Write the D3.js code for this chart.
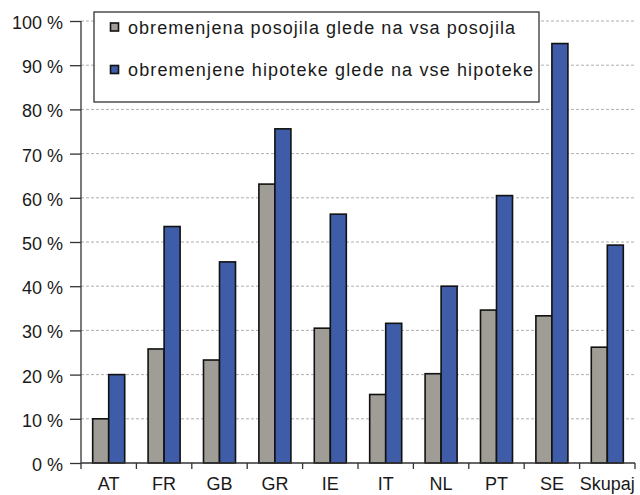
<!DOCTYPE html>
<html>
<head>
<meta charset="utf-8">
<script src="https://cdn.jsdelivr.net/npm/d3@7"></script>
<style>
  body { margin: 0; background: #fff; }
</style>
</head>
<body>
<div id="chart"></div>
<script>
const categories = ["AT", "FR", "GB", "GR", "IE", "IT", "NL", "PT", "SE", "Skupaj"];
const loans = [10, 25.8, 23.3, 63.1, 30.5, 15.5, 20.2, 34.6, 33.3, 26.2];
const mortgages = [20, 53.5, 45.5, 75.6, 56.3, 31.6, 40, 60.5, 94.9, 49.3];
const seriesNames = [
  "obremenjena posojila glede na vsa posojila",
  "obremenjene hipoteke glede na vse hipoteke"
];
const seriesColors = ["#a09c96", "#3e5ca8"];
const yTicks = [0, 10, 20, 30, 40, 50, 60, 70, 80, 90, 100];

const FONT = "'Liberation Sans', Arial, Helvetica, sans-serif";
const width = 640, height = 495;
const margin = { top: 21, right: 5, bottom: 32, left: 81 };
const innerW = 635 - margin.left;
const innerH = 463 - margin.top;

const svg = d3.select("#chart").append("svg")
  .attr("width", width).attr("height", height);
const g = svg.append("g").attr("transform", `translate(${margin.left},${margin.top})`);

const x = d3.scaleBand().domain(categories).range([0, innerW]).paddingInner(0).paddingOuter(0);
const x1 = d3.scaleBand().domain([0, 1]).range([0, x.bandwidth()]).paddingOuter(0.73).paddingInner(0);
const y = d3.scaleLinear().domain([0, 100]).range([innerH, 0]);

// gridlines
g.selectAll("line.grid").data(yTicks.filter(d => d > 0)).enter().append("line")
  .attr("x1", 0).attr("x2", innerW)
  .attr("y1", d => y(d)).attr("y2", d => y(d))
  .attr("stroke", "#9a9a9a").attr("stroke-width", 0.8)
  .attr("stroke-dasharray", "3,2");

// bars
const data = categories.map((c, i) => ({ c, vals: [loans[i], mortgages[i]] }));
const groups = g.selectAll("g.grp").data(data).enter().append("g")
  .attr("transform", d => `translate(${x(d.c)},0)`);
groups.selectAll("rect").data(d => d.vals.map((v, k) => ({ v, k }))).enter().append("rect")
  .attr("x", d => x1(d.k))
  .attr("width", x1.bandwidth())
  .attr("y", d => y(d.v))
  .attr("height", d => innerH - y(d.v))
  .attr("fill", d => seriesColors[d.k])
  .attr("stroke", "#111").attr("stroke-width", 1.6);

// y axis
const yAxis = g.append("g").call(d3.axisLeft(y).tickValues(yTicks).tickSize(11).tickFormat(d => d + " %"));
yAxis.select(".domain").attr("stroke", "#333").attr("stroke-width", 1.3).attr("d", `M0,0V${innerH}`);
yAxis.selectAll(".tick line").attr("stroke", "#333").attr("stroke-width", 1.3);
yAxis.selectAll(".tick text").attr("x", -18).attr("dy", "0.42em")
  .style("font-family", FONT).style("font-size", "18px").style("fill", "#1a1a1a");

// x axis
const xAxis = g.append("g").attr("transform", `translate(0,${innerH})`)
  .call(d3.axisBottom(x).tickSize(0).tickFormat(d => d));
xAxis.select(".domain").attr("stroke", "#333").attr("stroke-width", 1.3).attr("d", `M0,0H${innerW}`);
xAxis.selectAll(".tick text").attr("y", 14)
  .style("font-family", FONT).style("font-size", "18px").style("fill", "#1a1a1a");
xAxis.selectAll("line.sep").data(d3.range(categories.length + 1)).enter().append("line")
  .attr("x1", i => i * x.bandwidth()).attr("x2", i => i * x.bandwidth())
  .attr("y1", 0).attr("y2", 6)
  .attr("stroke", "#333").attr("stroke-width", 1.3);

// legend
const legend = svg.append("g").attr("transform", "translate(94,12)");
legend.append("rect").attr("width", 445).attr("height", 90)
  .attr("fill", "#fff").attr("stroke", "#222").attr("stroke-width", 1.2);
seriesNames.forEach((name, k) => {
  const ly = 15 + k * 42.5;
  legend.append("rect").attr("x", 16.5).attr("y", ly - 4).attr("width", 8).attr("height", 8)
    .attr("fill", seriesColors[k]).attr("stroke", "#111").attr("stroke-width", 1.6);
  legend.append("text").attr("x", 34).attr("y", ly + 6.5)
    .style("font-family", FONT).style("font-size", "18px").style("fill", "#1a1a1a")
    .attr("textLength", k === 0 ? 387 : 405).attr("lengthAdjust", "spacing")
    .text(name);
});
</script>
</body>
</html>
